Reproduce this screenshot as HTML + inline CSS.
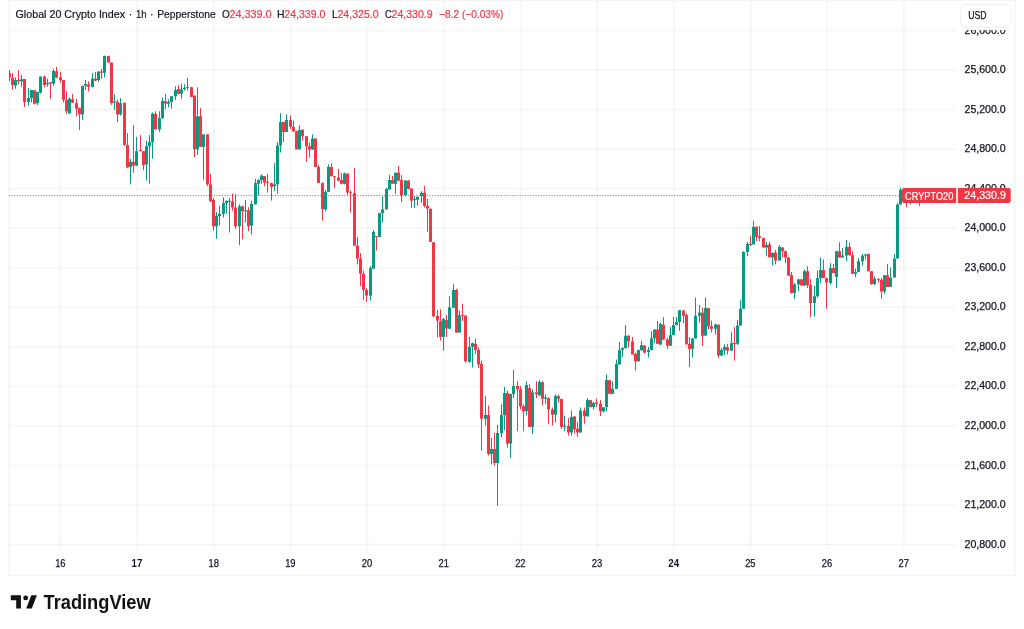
<!DOCTYPE html>
<html><head><meta charset="utf-8"><style>
html,body{margin:0;padding:0;background:#fff;}
body{width:1024px;height:629px;overflow:hidden;position:relative;}
svg{position:absolute;left:0;top:0;}
text{font-family:"Liberation Sans","DejaVu Sans",sans-serif;}
.ax{stroke:#131722;stroke-width:0.25px;}
.hd{stroke-width:0.2px;}
</style></head><body>
<svg width="1024" height="629" viewBox="0 0 1024 629">
<defs><clipPath id="clipc"><rect x="9" y="1" width="947" height="549"/></clipPath></defs>
<rect x="9" y="0.4" width="1006.1" height="575.1" fill="none" stroke="#f4f4f4" stroke-width="1.4"/>
<line x1="9" y1="195.6" x2="956" y2="195.6" stroke="#f23645" stroke-opacity="0.85" stroke-width="1" stroke-dasharray="1.2 1.46"/>
<rect x="9" y="29.57" width="947" height="1.8" fill="#2a2e39" fill-opacity="0.045"/>
<rect x="9" y="69.1" width="947" height="1.8" fill="#2a2e39" fill-opacity="0.045"/>
<rect x="9" y="108.63" width="947" height="1.8" fill="#2a2e39" fill-opacity="0.045"/>
<rect x="9" y="148.17" width="947" height="1.8" fill="#2a2e39" fill-opacity="0.045"/>
<rect x="9" y="187.7" width="947" height="1.8" fill="#2a2e39" fill-opacity="0.045"/>
<rect x="9" y="227.23" width="947" height="1.8" fill="#2a2e39" fill-opacity="0.045"/>
<rect x="9" y="266.77" width="947" height="1.8" fill="#2a2e39" fill-opacity="0.045"/>
<rect x="9" y="306.3" width="947" height="1.8" fill="#2a2e39" fill-opacity="0.045"/>
<rect x="9" y="345.83" width="947" height="1.8" fill="#2a2e39" fill-opacity="0.045"/>
<rect x="9" y="385.37" width="947" height="1.8" fill="#2a2e39" fill-opacity="0.045"/>
<rect x="9" y="424.9" width="947" height="1.8" fill="#2a2e39" fill-opacity="0.045"/>
<rect x="9" y="464.43" width="947" height="1.8" fill="#2a2e39" fill-opacity="0.045"/>
<rect x="9" y="503.97" width="947" height="1.8" fill="#2a2e39" fill-opacity="0.045"/>
<rect x="9" y="543.5" width="947" height="1.8" fill="#2a2e39" fill-opacity="0.045"/>
<rect x="59.63" y="1" width="1.8" height="549" fill="#2a2e39" fill-opacity="0.045"/>
<rect x="136.3" y="1" width="1.8" height="549" fill="#2a2e39" fill-opacity="0.045"/>
<rect x="212.97" y="1" width="1.8" height="549" fill="#2a2e39" fill-opacity="0.045"/>
<rect x="289.64" y="1" width="1.8" height="549" fill="#2a2e39" fill-opacity="0.045"/>
<rect x="366.31" y="1" width="1.8" height="549" fill="#2a2e39" fill-opacity="0.045"/>
<rect x="442.98" y="1" width="1.8" height="549" fill="#2a2e39" fill-opacity="0.045"/>
<rect x="519.65" y="1" width="1.8" height="549" fill="#2a2e39" fill-opacity="0.045"/>
<rect x="596.32" y="1" width="1.8" height="549" fill="#2a2e39" fill-opacity="0.045"/>
<rect x="672.99" y="1" width="1.8" height="549" fill="#2a2e39" fill-opacity="0.045"/>
<rect x="749.66" y="1" width="1.8" height="549" fill="#2a2e39" fill-opacity="0.045"/>
<rect x="826.33" y="1" width="1.8" height="549" fill="#2a2e39" fill-opacity="0.045"/>
<rect x="903.0" y="1" width="1.8" height="549" fill="#2a2e39" fill-opacity="0.045"/>
<g clip-path="url(#clipc)">
<rect x="9" y="70.00" width="1" height="11.25" fill="#f23645"/>
<rect x="8" y="73.12" width="3" height="4.38" fill="#f23645"/>
<rect x="12" y="73.12" width="1" height="16.62" fill="#f23645"/>
<rect x="11" y="77.75" width="3" height="7.25" fill="#f23645"/>
<rect x="15" y="77.50" width="1" height="11.25" fill="#089981"/>
<rect x="14" y="80.00" width="3" height="5.62" fill="#089981"/>
<rect x="18" y="70.25" width="1" height="14.12" fill="#f23645"/>
<rect x="17" y="80.00" width="3" height="1.25" fill="#f23645"/>
<rect x="21" y="75.00" width="1" height="11.88" fill="#089981"/>
<rect x="20" y="79.38" width="3" height="1.88" fill="#089981"/>
<rect x="24" y="79.00" width="1" height="27.88" fill="#f23645"/>
<rect x="23" y="79.00" width="3" height="22.88" fill="#f23645"/>
<rect x="28" y="88.12" width="1" height="17.50" fill="#089981"/>
<rect x="27" y="98.12" width="3" height="3.75" fill="#089981"/>
<rect x="31" y="90.00" width="1" height="12.50" fill="#089981"/>
<rect x="30" y="90.00" width="3" height="8.12" fill="#089981"/>
<rect x="34" y="90.25" width="1" height="14.12" fill="#f23645"/>
<rect x="33" y="90.25" width="3" height="13.50" fill="#f23645"/>
<rect x="37" y="91.88" width="1" height="13.12" fill="#089981"/>
<rect x="36" y="91.88" width="3" height="11.25" fill="#089981"/>
<rect x="40" y="76.25" width="1" height="17.50" fill="#089981"/>
<rect x="39" y="76.62" width="3" height="15.88" fill="#089981"/>
<rect x="44" y="75.62" width="1" height="11.88" fill="#f23645"/>
<rect x="43" y="76.50" width="3" height="8.50" fill="#f23645"/>
<rect x="47" y="78.75" width="1" height="8.12" fill="#089981"/>
<rect x="46" y="82.88" width="3" height="1.50" fill="#089981"/>
<rect x="50" y="81.88" width="1" height="16.88" fill="#f23645"/>
<rect x="49" y="82.25" width="3" height="1.25" fill="#f23645"/>
<rect x="53" y="68.75" width="1" height="16.88" fill="#089981"/>
<rect x="52" y="71.00" width="3" height="12.75" fill="#089981"/>
<rect x="56" y="66.88" width="1" height="11.25" fill="#f23645"/>
<rect x="55" y="71.25" width="3" height="6.50" fill="#f23645"/>
<rect x="60" y="71.88" width="1" height="10.62" fill="#f23645"/>
<rect x="59" y="77.25" width="3" height="2.75" fill="#f23645"/>
<rect x="63" y="80.00" width="1" height="22.50" fill="#f23645"/>
<rect x="62" y="80.00" width="3" height="20.00" fill="#f23645"/>
<rect x="66" y="91.25" width="1" height="22.50" fill="#f23645"/>
<rect x="65" y="100.00" width="3" height="11.25" fill="#f23645"/>
<rect x="69" y="97.50" width="1" height="16.25" fill="#089981"/>
<rect x="68" y="98.75" width="3" height="14.75" fill="#089981"/>
<rect x="72" y="93.75" width="1" height="9.38" fill="#f23645"/>
<rect x="71" y="99.38" width="3" height="3.38" fill="#f23645"/>
<rect x="76" y="99.00" width="1" height="17.25" fill="#f23645"/>
<rect x="75" y="103.12" width="3" height="5.62" fill="#f23645"/>
<rect x="79" y="107.50" width="1" height="22.50" fill="#f23645"/>
<rect x="78" y="108.12" width="3" height="6.25" fill="#f23645"/>
<rect x="82" y="85.62" width="1" height="34.38" fill="#089981"/>
<rect x="81" y="86.00" width="3" height="28.38" fill="#089981"/>
<rect x="85" y="80.00" width="1" height="10.00" fill="#089981"/>
<rect x="84" y="84.00" width="3" height="1.62" fill="#089981"/>
<rect x="88" y="81.25" width="1" height="10.00" fill="#f23645"/>
<rect x="87" y="84.38" width="3" height="2.50" fill="#f23645"/>
<rect x="92" y="73.12" width="1" height="14.38" fill="#089981"/>
<rect x="91" y="78.75" width="3" height="8.12" fill="#089981"/>
<rect x="95" y="71.88" width="1" height="9.38" fill="#f23645"/>
<rect x="94" y="78.75" width="3" height="1.88" fill="#f23645"/>
<rect x="98" y="71.25" width="1" height="10.62" fill="#089981"/>
<rect x="97" y="71.50" width="3" height="8.50" fill="#089981"/>
<rect x="101" y="68.75" width="1" height="10.00" fill="#f23645"/>
<rect x="100" y="71.50" width="3" height="1.25" fill="#f23645"/>
<rect x="104" y="55.62" width="1" height="21.88" fill="#089981"/>
<rect x="103" y="56.00" width="3" height="16.75" fill="#089981"/>
<rect x="108" y="55.62" width="1" height="6.88" fill="#f23645"/>
<rect x="107" y="56.00" width="3" height="6.50" fill="#f23645"/>
<rect x="111" y="62.50" width="1" height="42.25" fill="#f23645"/>
<rect x="110" y="62.50" width="3" height="40.62" fill="#f23645"/>
<rect x="114" y="94.38" width="1" height="15.62" fill="#089981"/>
<rect x="113" y="101.25" width="3" height="1.25" fill="#089981"/>
<rect x="117" y="99.38" width="1" height="22.50" fill="#f23645"/>
<rect x="116" y="101.88" width="3" height="12.50" fill="#f23645"/>
<rect x="120" y="98.12" width="1" height="17.50" fill="#089981"/>
<rect x="119" y="103.12" width="3" height="11.25" fill="#089981"/>
<rect x="124" y="102.75" width="1" height="42.75" fill="#f23645"/>
<rect x="123" y="102.75" width="3" height="42.25" fill="#f23645"/>
<rect x="127" y="133.10" width="1" height="35.00" fill="#f23645"/>
<rect x="126" y="145.00" width="3" height="22.25" fill="#f23645"/>
<rect x="130" y="158.75" width="1" height="25.65" fill="#089981"/>
<rect x="129" y="161.90" width="3" height="5.00" fill="#089981"/>
<rect x="133" y="125.00" width="1" height="47.75" fill="#f23645"/>
<rect x="132" y="161.90" width="3" height="3.70" fill="#f23645"/>
<rect x="136" y="136.90" width="1" height="29.10" fill="#089981"/>
<rect x="135" y="151.25" width="3" height="14.35" fill="#089981"/>
<rect x="140" y="135.00" width="1" height="16.25" fill="#f23645"/>
<rect x="139" y="150.00" width="3" height="1.25" fill="#f23645"/>
<rect x="143" y="151.25" width="1" height="19.00" fill="#f23645"/>
<rect x="142" y="151.25" width="3" height="13.75" fill="#f23645"/>
<rect x="146" y="140.60" width="1" height="40.00" fill="#089981"/>
<rect x="145" y="146.25" width="3" height="18.15" fill="#089981"/>
<rect x="149" y="135.00" width="1" height="48.75" fill="#089981"/>
<rect x="148" y="141.90" width="3" height="4.35" fill="#089981"/>
<rect x="152" y="112.50" width="1" height="46.25" fill="#089981"/>
<rect x="151" y="113.50" width="3" height="28.75" fill="#089981"/>
<rect x="155" y="111.25" width="1" height="18.15" fill="#f23645"/>
<rect x="154" y="114.00" width="3" height="15.40" fill="#f23645"/>
<rect x="159" y="111.25" width="1" height="20.65" fill="#089981"/>
<rect x="158" y="118.10" width="3" height="11.30" fill="#089981"/>
<rect x="162" y="97.50" width="1" height="21.25" fill="#089981"/>
<rect x="161" y="101.00" width="3" height="17.10" fill="#089981"/>
<rect x="165" y="94.00" width="1" height="15.00" fill="#f23645"/>
<rect x="164" y="101.25" width="3" height="2.25" fill="#f23645"/>
<rect x="168" y="99.40" width="1" height="8.10" fill="#089981"/>
<rect x="167" y="101.90" width="3" height="1.85" fill="#089981"/>
<rect x="171" y="96.25" width="1" height="12.50" fill="#089981"/>
<rect x="170" y="96.25" width="3" height="5.65" fill="#089981"/>
<rect x="175" y="86.25" width="1" height="13.75" fill="#089981"/>
<rect x="174" y="90.00" width="3" height="6.25" fill="#089981"/>
<rect x="178" y="85.00" width="1" height="9.40" fill="#f23645"/>
<rect x="177" y="89.00" width="3" height="4.75" fill="#f23645"/>
<rect x="181" y="83.75" width="1" height="15.00" fill="#089981"/>
<rect x="180" y="89.40" width="3" height="4.35" fill="#089981"/>
<rect x="184" y="84.40" width="1" height="6.20" fill="#089981"/>
<rect x="183" y="87.75" width="3" height="1.25" fill="#089981"/>
<rect x="187" y="77.75" width="1" height="12.85" fill="#089981"/>
<rect x="186" y="86.83" width="3" height="1.00" fill="#089981"/>
<rect x="191" y="86.90" width="1" height="10.35" fill="#f23645"/>
<rect x="190" y="87.25" width="3" height="9.65" fill="#f23645"/>
<rect x="194" y="95.60" width="1" height="61.90" fill="#f23645"/>
<rect x="193" y="95.60" width="3" height="53.80" fill="#f23645"/>
<rect x="197" y="87.25" width="1" height="67.75" fill="#089981"/>
<rect x="196" y="116.25" width="3" height="33.15" fill="#089981"/>
<rect x="200" y="108.10" width="1" height="38.80" fill="#f23645"/>
<rect x="199" y="116.25" width="3" height="30.65" fill="#f23645"/>
<rect x="203" y="134.40" width="1" height="45.35" fill="#089981"/>
<rect x="202" y="134.40" width="3" height="12.50" fill="#089981"/>
<rect x="207" y="134.40" width="1" height="51.85" fill="#f23645"/>
<rect x="206" y="134.40" width="3" height="50.00" fill="#f23645"/>
<rect x="210" y="174.00" width="1" height="27.90" fill="#f23645"/>
<rect x="209" y="184.40" width="3" height="16.85" fill="#f23645"/>
<rect x="213" y="198.10" width="1" height="32.50" fill="#f23645"/>
<rect x="212" y="200.00" width="3" height="26.25" fill="#f23645"/>
<rect x="216" y="211.90" width="1" height="26.85" fill="#089981"/>
<rect x="215" y="216.00" width="3" height="10.25" fill="#089981"/>
<rect x="219" y="205.60" width="1" height="20.00" fill="#089981"/>
<rect x="218" y="214.00" width="3" height="2.00" fill="#089981"/>
<rect x="223" y="197.25" width="1" height="20.25" fill="#089981"/>
<rect x="222" y="203.10" width="3" height="10.90" fill="#089981"/>
<rect x="226" y="200.25" width="1" height="13.50" fill="#089981"/>
<rect x="225" y="201.00" width="3" height="2.10" fill="#089981"/>
<rect x="229" y="198.10" width="1" height="34.40" fill="#089981"/>
<rect x="228" y="200.75" width="3" height="1.00" fill="#089981"/>
<rect x="232" y="193.50" width="1" height="17.10" fill="#f23645"/>
<rect x="231" y="201.50" width="3" height="6.00" fill="#f23645"/>
<rect x="235" y="194.00" width="1" height="34.75" fill="#f23645"/>
<rect x="234" y="207.50" width="3" height="18.75" fill="#f23645"/>
<rect x="239" y="204.40" width="1" height="40.60" fill="#089981"/>
<rect x="238" y="206.25" width="3" height="20.00" fill="#089981"/>
<rect x="242" y="205.60" width="1" height="33.80" fill="#f23645"/>
<rect x="241" y="206.25" width="3" height="5.00" fill="#f23645"/>
<rect x="245" y="200.00" width="1" height="22.50" fill="#089981"/>
<rect x="244" y="210.25" width="3" height="1.00" fill="#089981"/>
<rect x="248" y="207.25" width="1" height="24.00" fill="#f23645"/>
<rect x="247" y="210.25" width="3" height="16.00" fill="#f23645"/>
<rect x="251" y="200.60" width="1" height="34.15" fill="#089981"/>
<rect x="250" y="204.00" width="3" height="21.60" fill="#089981"/>
<rect x="255" y="178.75" width="1" height="25.65" fill="#089981"/>
<rect x="254" y="183.10" width="3" height="21.30" fill="#089981"/>
<rect x="258" y="179.40" width="1" height="16.20" fill="#089981"/>
<rect x="257" y="180.00" width="3" height="3.75" fill="#089981"/>
<rect x="261" y="174.40" width="1" height="9.35" fill="#089981"/>
<rect x="260" y="175.60" width="3" height="4.40" fill="#089981"/>
<rect x="264" y="176.00" width="1" height="10.25" fill="#f23645"/>
<rect x="263" y="176.00" width="3" height="6.50" fill="#f23645"/>
<rect x="267" y="174.00" width="1" height="18.50" fill="#f23645"/>
<rect x="266" y="181.82" width="3" height="1.00" fill="#f23645"/>
<rect x="271" y="182.50" width="1" height="18.10" fill="#f23645"/>
<rect x="270" y="183.10" width="3" height="3.80" fill="#f23645"/>
<rect x="274" y="163.10" width="1" height="28.15" fill="#089981"/>
<rect x="273" y="184.40" width="3" height="1.85" fill="#089981"/>
<rect x="277" y="142.25" width="1" height="51.50" fill="#089981"/>
<rect x="276" y="145.60" width="3" height="38.80" fill="#089981"/>
<rect x="280" y="113.10" width="1" height="39.40" fill="#089981"/>
<rect x="279" y="121.90" width="3" height="23.70" fill="#089981"/>
<rect x="283" y="121.90" width="1" height="20.00" fill="#f23645"/>
<rect x="282" y="121.90" width="3" height="10.00" fill="#f23645"/>
<rect x="286" y="114.40" width="1" height="17.50" fill="#089981"/>
<rect x="285" y="120.00" width="3" height="11.90" fill="#089981"/>
<rect x="290" y="115.25" width="1" height="13.50" fill="#f23645"/>
<rect x="289" y="120.00" width="3" height="6.90" fill="#f23645"/>
<rect x="293" y="120.60" width="1" height="11.30" fill="#f23645"/>
<rect x="292" y="126.90" width="3" height="4.35" fill="#f23645"/>
<rect x="296" y="130.60" width="1" height="18.80" fill="#f23645"/>
<rect x="295" y="131.25" width="3" height="18.15" fill="#f23645"/>
<rect x="299" y="125.00" width="1" height="24.40" fill="#089981"/>
<rect x="298" y="130.00" width="3" height="19.40" fill="#089981"/>
<rect x="302" y="129.40" width="1" height="11.20" fill="#f23645"/>
<rect x="301" y="129.75" width="3" height="6.50" fill="#f23645"/>
<rect x="306" y="136.25" width="1" height="25.65" fill="#f23645"/>
<rect x="305" y="136.25" width="3" height="10.00" fill="#f23645"/>
<rect x="309" y="142.50" width="1" height="15.00" fill="#f23645"/>
<rect x="308" y="146.25" width="3" height="3.15" fill="#f23645"/>
<rect x="312" y="134.40" width="1" height="15.60" fill="#089981"/>
<rect x="311" y="138.50" width="3" height="10.90" fill="#089981"/>
<rect x="315" y="138.50" width="1" height="28.40" fill="#f23645"/>
<rect x="314" y="138.50" width="3" height="28.40" fill="#f23645"/>
<rect x="318" y="165.00" width="1" height="18.10" fill="#f23645"/>
<rect x="317" y="166.90" width="3" height="16.20" fill="#f23645"/>
<rect x="322" y="182.50" width="1" height="38.10" fill="#f23645"/>
<rect x="321" y="183.10" width="3" height="26.30" fill="#f23645"/>
<rect x="325" y="190.00" width="1" height="21.25" fill="#089981"/>
<rect x="324" y="191.90" width="3" height="17.50" fill="#089981"/>
<rect x="328" y="164.40" width="1" height="27.50" fill="#089981"/>
<rect x="327" y="166.90" width="3" height="25.00" fill="#089981"/>
<rect x="331" y="163.10" width="1" height="13.15" fill="#f23645"/>
<rect x="330" y="166.90" width="3" height="9.35" fill="#f23645"/>
<rect x="334" y="176.25" width="1" height="11.85" fill="#f23645"/>
<rect x="333" y="176.25" width="3" height="1.25" fill="#f23645"/>
<rect x="338" y="168.75" width="1" height="12.50" fill="#f23645"/>
<rect x="337" y="177.50" width="3" height="3.10" fill="#f23645"/>
<rect x="341" y="173.10" width="1" height="11.30" fill="#f23645"/>
<rect x="340" y="180.00" width="3" height="3.75" fill="#f23645"/>
<rect x="344" y="172.50" width="1" height="11.90" fill="#089981"/>
<rect x="343" y="173.50" width="3" height="10.25" fill="#089981"/>
<rect x="347" y="173.50" width="1" height="21.50" fill="#f23645"/>
<rect x="346" y="173.50" width="3" height="19.00" fill="#f23645"/>
<rect x="350" y="190.60" width="1" height="21.90" fill="#f23645"/>
<rect x="349" y="192.30" width="3" height="1.00" fill="#f23645"/>
<rect x="354" y="168.10" width="1" height="78.15" fill="#f23645"/>
<rect x="353" y="193.10" width="3" height="52.50" fill="#f23645"/>
<rect x="357" y="236.90" width="1" height="27.50" fill="#f23645"/>
<rect x="356" y="245.60" width="3" height="12.90" fill="#f23645"/>
<rect x="360" y="253.10" width="1" height="33.15" fill="#f23645"/>
<rect x="359" y="258.50" width="3" height="15.25" fill="#f23645"/>
<rect x="363" y="270.60" width="1" height="29.40" fill="#f23645"/>
<rect x="362" y="273.75" width="3" height="16.25" fill="#f23645"/>
<rect x="366" y="288.10" width="1" height="13.80" fill="#f23645"/>
<rect x="365" y="290.00" width="3" height="5.60" fill="#f23645"/>
<rect x="370" y="266.00" width="1" height="34.60" fill="#089981"/>
<rect x="369" y="268.10" width="3" height="27.50" fill="#089981"/>
<rect x="373" y="230.25" width="1" height="38.50" fill="#089981"/>
<rect x="372" y="231.90" width="3" height="36.85" fill="#089981"/>
<rect x="376" y="236.00" width="1" height="14.60" fill="#f23645"/>
<rect x="375" y="236.07" width="3" height="1.00" fill="#f23645"/>
<rect x="379" y="213.10" width="1" height="24.40" fill="#089981"/>
<rect x="378" y="213.10" width="3" height="23.80" fill="#089981"/>
<rect x="382" y="196.25" width="1" height="26.25" fill="#089981"/>
<rect x="381" y="209.40" width="3" height="3.70" fill="#089981"/>
<rect x="386" y="187.75" width="1" height="21.65" fill="#089981"/>
<rect x="385" y="189.00" width="3" height="20.40" fill="#089981"/>
<rect x="389" y="174.75" width="1" height="15.25" fill="#089981"/>
<rect x="388" y="180.00" width="3" height="9.40" fill="#089981"/>
<rect x="392" y="176.00" width="1" height="7.75" fill="#f23645"/>
<rect x="391" y="180.00" width="3" height="3.75" fill="#f23645"/>
<rect x="395" y="172.50" width="1" height="21.25" fill="#089981"/>
<rect x="394" y="172.75" width="3" height="11.00" fill="#089981"/>
<rect x="398" y="166.00" width="1" height="15.25" fill="#f23645"/>
<rect x="397" y="172.50" width="3" height="8.10" fill="#f23645"/>
<rect x="401" y="175.00" width="1" height="27.25" fill="#f23645"/>
<rect x="400" y="180.00" width="3" height="15.00" fill="#f23645"/>
<rect x="405" y="180.00" width="1" height="16.50" fill="#089981"/>
<rect x="404" y="180.60" width="3" height="14.40" fill="#089981"/>
<rect x="408" y="180.00" width="1" height="9.40" fill="#f23645"/>
<rect x="407" y="180.60" width="3" height="8.40" fill="#f23645"/>
<rect x="411" y="188.10" width="1" height="20.00" fill="#f23645"/>
<rect x="410" y="188.50" width="3" height="12.10" fill="#f23645"/>
<rect x="414" y="196.25" width="1" height="11.85" fill="#089981"/>
<rect x="413" y="199.07" width="3" height="1.00" fill="#089981"/>
<rect x="417" y="196.25" width="1" height="9.35" fill="#089981"/>
<rect x="416" y="196.90" width="3" height="2.85" fill="#089981"/>
<rect x="421" y="191.25" width="1" height="11.85" fill="#089981"/>
<rect x="420" y="192.75" width="3" height="3.50" fill="#089981"/>
<rect x="424" y="186.00" width="1" height="21.50" fill="#f23645"/>
<rect x="423" y="192.75" width="3" height="13.25" fill="#f23645"/>
<rect x="427" y="199.00" width="1" height="32.90" fill="#f23645"/>
<rect x="426" y="206.00" width="3" height="2.50" fill="#f23645"/>
<rect x="430" y="208.75" width="1" height="33.15" fill="#f23645"/>
<rect x="429" y="208.75" width="3" height="33.15" fill="#f23645"/>
<rect x="433" y="242.25" width="1" height="75.25" fill="#f23645"/>
<rect x="432" y="242.25" width="3" height="74.00" fill="#f23645"/>
<rect x="437" y="310.00" width="1" height="27.50" fill="#f23645"/>
<rect x="436" y="316.00" width="3" height="4.60" fill="#f23645"/>
<rect x="440" y="309.40" width="1" height="31.20" fill="#f23645"/>
<rect x="439" y="321.25" width="3" height="15.65" fill="#f23645"/>
<rect x="443" y="318.10" width="1" height="32.50" fill="#089981"/>
<rect x="442" y="319.00" width="3" height="17.90" fill="#089981"/>
<rect x="446" y="315.00" width="1" height="21.90" fill="#f23645"/>
<rect x="445" y="320.00" width="3" height="8.50" fill="#f23645"/>
<rect x="449" y="296.25" width="1" height="32.50" fill="#089981"/>
<rect x="448" y="307.25" width="3" height="21.50" fill="#089981"/>
<rect x="453" y="284.40" width="1" height="23.35" fill="#089981"/>
<rect x="452" y="290.00" width="3" height="17.75" fill="#089981"/>
<rect x="456" y="288.75" width="1" height="44.00" fill="#f23645"/>
<rect x="455" y="289.75" width="3" height="42.75" fill="#f23645"/>
<rect x="459" y="310.60" width="1" height="22.15" fill="#089981"/>
<rect x="458" y="315.25" width="3" height="17.25" fill="#089981"/>
<rect x="462" y="303.75" width="1" height="17.50" fill="#f23645"/>
<rect x="461" y="314.80" width="3" height="1.00" fill="#f23645"/>
<rect x="465" y="315.60" width="1" height="46.90" fill="#f23645"/>
<rect x="464" y="315.60" width="3" height="45.65" fill="#f23645"/>
<rect x="469" y="336.90" width="1" height="25.60" fill="#089981"/>
<rect x="468" y="346.90" width="3" height="15.00" fill="#089981"/>
<rect x="472" y="342.50" width="1" height="25.00" fill="#089981"/>
<rect x="471" y="343.10" width="3" height="3.80" fill="#089981"/>
<rect x="475" y="338.75" width="1" height="15.00" fill="#f23645"/>
<rect x="474" y="343.75" width="3" height="6.25" fill="#f23645"/>
<rect x="478" y="347.50" width="1" height="20.60" fill="#f23645"/>
<rect x="477" y="350.00" width="3" height="14.40" fill="#f23645"/>
<rect x="481" y="360.60" width="1" height="89.90" fill="#f23645"/>
<rect x="480" y="364.00" width="3" height="54.75" fill="#f23645"/>
<rect x="485" y="396.25" width="1" height="29.35" fill="#089981"/>
<rect x="484" y="415.00" width="3" height="3.75" fill="#089981"/>
<rect x="488" y="405.60" width="1" height="49.90" fill="#f23645"/>
<rect x="487" y="415.00" width="3" height="39.00" fill="#f23645"/>
<rect x="491" y="438.00" width="1" height="26.25" fill="#089981"/>
<rect x="490" y="449.00" width="3" height="5.00" fill="#089981"/>
<rect x="494" y="433.00" width="1" height="32.50" fill="#f23645"/>
<rect x="493" y="449.00" width="3" height="14.00" fill="#f23645"/>
<rect x="497" y="425.00" width="1" height="80.90" fill="#089981"/>
<rect x="496" y="433.00" width="3" height="30.00" fill="#089981"/>
<rect x="501" y="404.40" width="1" height="33.00" fill="#089981"/>
<rect x="500" y="415.00" width="3" height="18.10" fill="#089981"/>
<rect x="504" y="386.90" width="1" height="43.10" fill="#089981"/>
<rect x="503" y="393.10" width="3" height="21.90" fill="#089981"/>
<rect x="507" y="390.60" width="1" height="56.80" fill="#f23645"/>
<rect x="506" y="393.10" width="3" height="50.50" fill="#f23645"/>
<rect x="510" y="393.75" width="1" height="64.25" fill="#089981"/>
<rect x="509" y="394.00" width="3" height="49.60" fill="#089981"/>
<rect x="513" y="370.00" width="1" height="28.10" fill="#089981"/>
<rect x="512" y="386.00" width="3" height="8.00" fill="#089981"/>
<rect x="517" y="381.25" width="1" height="49.85" fill="#f23645"/>
<rect x="516" y="386.00" width="3" height="3.40" fill="#f23645"/>
<rect x="520" y="386.25" width="1" height="23.15" fill="#f23645"/>
<rect x="519" y="389.40" width="3" height="16.85" fill="#f23645"/>
<rect x="523" y="404.40" width="1" height="26.85" fill="#f23645"/>
<rect x="522" y="406.25" width="3" height="5.00" fill="#f23645"/>
<rect x="526" y="381.25" width="1" height="34.35" fill="#089981"/>
<rect x="525" y="385.00" width="3" height="26.25" fill="#089981"/>
<rect x="529" y="383.75" width="1" height="43.15" fill="#f23645"/>
<rect x="528" y="388.10" width="3" height="38.80" fill="#f23645"/>
<rect x="532" y="389.40" width="1" height="44.35" fill="#089981"/>
<rect x="531" y="392.25" width="3" height="34.65" fill="#089981"/>
<rect x="536" y="381.25" width="1" height="16.85" fill="#f23645"/>
<rect x="535" y="392.25" width="3" height="2.15" fill="#f23645"/>
<rect x="539" y="380.00" width="1" height="16.25" fill="#089981"/>
<rect x="538" y="381.90" width="3" height="13.10" fill="#089981"/>
<rect x="542" y="381.25" width="1" height="24.35" fill="#f23645"/>
<rect x="541" y="382.25" width="3" height="16.50" fill="#f23645"/>
<rect x="545" y="394.40" width="1" height="9.35" fill="#089981"/>
<rect x="544" y="397.50" width="3" height="1.25" fill="#089981"/>
<rect x="548" y="397.50" width="1" height="26.25" fill="#f23645"/>
<rect x="547" y="398.10" width="3" height="11.30" fill="#f23645"/>
<rect x="552" y="407.50" width="1" height="18.10" fill="#f23645"/>
<rect x="551" y="409.40" width="3" height="5.35" fill="#f23645"/>
<rect x="555" y="394.40" width="1" height="28.10" fill="#089981"/>
<rect x="554" y="396.00" width="3" height="18.75" fill="#089981"/>
<rect x="558" y="394.75" width="1" height="7.75" fill="#f23645"/>
<rect x="557" y="396.25" width="3" height="2.50" fill="#f23645"/>
<rect x="561" y="398.75" width="1" height="30.00" fill="#f23645"/>
<rect x="560" y="399.00" width="3" height="27.90" fill="#f23645"/>
<rect x="564" y="415.60" width="1" height="15.65" fill="#089981"/>
<rect x="563" y="425.60" width="3" height="1.30" fill="#089981"/>
<rect x="568" y="418.10" width="1" height="17.50" fill="#f23645"/>
<rect x="567" y="426.00" width="3" height="6.50" fill="#f23645"/>
<rect x="571" y="410.60" width="1" height="25.00" fill="#089981"/>
<rect x="570" y="416.90" width="3" height="15.60" fill="#089981"/>
<rect x="574" y="416.25" width="1" height="17.50" fill="#f23645"/>
<rect x="573" y="416.50" width="3" height="12.90" fill="#f23645"/>
<rect x="577" y="421.90" width="1" height="15.00" fill="#f23645"/>
<rect x="576" y="428.75" width="3" height="3.75" fill="#f23645"/>
<rect x="580" y="407.50" width="1" height="25.00" fill="#089981"/>
<rect x="579" y="410.60" width="3" height="21.90" fill="#089981"/>
<rect x="584" y="407.50" width="1" height="16.25" fill="#f23645"/>
<rect x="583" y="410.60" width="3" height="5.65" fill="#f23645"/>
<rect x="587" y="398.25" width="1" height="18.15" fill="#089981"/>
<rect x="586" y="400.10" width="3" height="16.30" fill="#089981"/>
<rect x="590" y="400.10" width="1" height="7.50" fill="#f23645"/>
<rect x="589" y="400.10" width="3" height="6.90" fill="#f23645"/>
<rect x="593" y="402.00" width="1" height="7.50" fill="#089981"/>
<rect x="592" y="403.00" width="3" height="4.00" fill="#089981"/>
<rect x="596" y="398.50" width="1" height="8.50" fill="#f23645"/>
<rect x="595" y="402.60" width="3" height="1.30" fill="#f23645"/>
<rect x="600" y="400.10" width="1" height="15.90" fill="#f23645"/>
<rect x="599" y="403.90" width="3" height="7.50" fill="#f23645"/>
<rect x="603" y="407.00" width="1" height="5.60" fill="#089981"/>
<rect x="602" y="407.25" width="3" height="4.15" fill="#089981"/>
<rect x="606" y="374.50" width="1" height="36.90" fill="#089981"/>
<rect x="605" y="380.10" width="3" height="26.90" fill="#089981"/>
<rect x="609" y="380.10" width="1" height="13.80" fill="#f23645"/>
<rect x="608" y="380.10" width="3" height="13.80" fill="#f23645"/>
<rect x="612" y="381.40" width="1" height="12.50" fill="#089981"/>
<rect x="611" y="388.90" width="3" height="5.00" fill="#089981"/>
<rect x="616" y="359.50" width="1" height="29.40" fill="#089981"/>
<rect x="615" y="363.90" width="3" height="25.00" fill="#089981"/>
<rect x="619" y="342.00" width="1" height="22.50" fill="#089981"/>
<rect x="618" y="350.10" width="3" height="14.40" fill="#089981"/>
<rect x="622" y="347.00" width="1" height="10.00" fill="#089981"/>
<rect x="621" y="348.25" width="3" height="1.85" fill="#089981"/>
<rect x="625" y="325.10" width="1" height="23.15" fill="#089981"/>
<rect x="624" y="335.75" width="3" height="12.50" fill="#089981"/>
<rect x="628" y="335.10" width="1" height="12.50" fill="#f23645"/>
<rect x="627" y="335.75" width="3" height="5.65" fill="#f23645"/>
<rect x="632" y="337.00" width="1" height="17.50" fill="#f23645"/>
<rect x="631" y="341.40" width="3" height="13.10" fill="#f23645"/>
<rect x="635" y="352.60" width="1" height="18.15" fill="#f23645"/>
<rect x="634" y="353.90" width="3" height="7.50" fill="#f23645"/>
<rect x="638" y="349.50" width="1" height="11.90" fill="#089981"/>
<rect x="637" y="350.10" width="3" height="11.30" fill="#089981"/>
<rect x="641" y="340.75" width="1" height="10.00" fill="#089981"/>
<rect x="640" y="345.10" width="3" height="5.00" fill="#089981"/>
<rect x="644" y="345.10" width="1" height="8.15" fill="#f23645"/>
<rect x="643" y="345.50" width="3" height="7.10" fill="#f23645"/>
<rect x="648" y="347.00" width="1" height="10.60" fill="#089981"/>
<rect x="647" y="350.10" width="3" height="1.90" fill="#089981"/>
<rect x="651" y="331.40" width="1" height="18.70" fill="#089981"/>
<rect x="650" y="338.25" width="3" height="11.85" fill="#089981"/>
<rect x="654" y="329.50" width="1" height="13.75" fill="#089981"/>
<rect x="653" y="329.50" width="3" height="8.75" fill="#089981"/>
<rect x="657" y="321.00" width="1" height="22.90" fill="#f23645"/>
<rect x="656" y="329.50" width="3" height="14.40" fill="#f23645"/>
<rect x="660" y="322.60" width="1" height="22.50" fill="#089981"/>
<rect x="659" y="323.90" width="3" height="20.60" fill="#089981"/>
<rect x="663" y="317.00" width="1" height="23.10" fill="#f23645"/>
<rect x="662" y="324.75" width="3" height="14.75" fill="#f23645"/>
<rect x="667" y="337.60" width="1" height="11.30" fill="#f23645"/>
<rect x="666" y="339.50" width="3" height="6.25" fill="#f23645"/>
<rect x="670" y="327.00" width="1" height="18.75" fill="#089981"/>
<rect x="669" y="335.10" width="3" height="10.65" fill="#089981"/>
<rect x="673" y="317.00" width="1" height="18.10" fill="#089981"/>
<rect x="672" y="325.10" width="3" height="10.00" fill="#089981"/>
<rect x="676" y="317.00" width="1" height="8.10" fill="#089981"/>
<rect x="675" y="322.00" width="3" height="3.10" fill="#089981"/>
<rect x="679" y="310.10" width="1" height="20.65" fill="#089981"/>
<rect x="678" y="310.10" width="3" height="11.90" fill="#089981"/>
<rect x="683" y="310.10" width="1" height="13.15" fill="#f23645"/>
<rect x="682" y="310.50" width="3" height="5.25" fill="#f23645"/>
<rect x="686" y="313.25" width="1" height="31.85" fill="#f23645"/>
<rect x="685" y="315.10" width="3" height="28.80" fill="#f23645"/>
<rect x="689" y="337.00" width="1" height="30.00" fill="#f23645"/>
<rect x="688" y="343.90" width="3" height="5.00" fill="#f23645"/>
<rect x="692" y="338.25" width="1" height="19.35" fill="#089981"/>
<rect x="691" y="338.50" width="3" height="10.40" fill="#089981"/>
<rect x="695" y="297.60" width="1" height="40.90" fill="#089981"/>
<rect x="694" y="315.75" width="3" height="22.75" fill="#089981"/>
<rect x="699" y="305.10" width="1" height="17.50" fill="#089981"/>
<rect x="698" y="312.60" width="3" height="3.15" fill="#089981"/>
<rect x="702" y="307.60" width="1" height="38.40" fill="#f23645"/>
<rect x="701" y="312.60" width="3" height="23.15" fill="#f23645"/>
<rect x="705" y="297.50" width="1" height="38.10" fill="#089981"/>
<rect x="704" y="308.10" width="3" height="27.50" fill="#089981"/>
<rect x="708" y="308.10" width="1" height="21.30" fill="#f23645"/>
<rect x="707" y="308.10" width="3" height="18.15" fill="#f23645"/>
<rect x="711" y="320.60" width="1" height="11.90" fill="#f23645"/>
<rect x="710" y="326.25" width="3" height="2.50" fill="#f23645"/>
<rect x="715" y="323.75" width="1" height="10.65" fill="#089981"/>
<rect x="714" y="324.40" width="3" height="4.35" fill="#089981"/>
<rect x="718" y="324.40" width="1" height="33.70" fill="#f23645"/>
<rect x="717" y="324.75" width="3" height="30.85" fill="#f23645"/>
<rect x="721" y="348.10" width="1" height="8.15" fill="#089981"/>
<rect x="720" y="350.00" width="3" height="5.60" fill="#089981"/>
<rect x="724" y="344.40" width="1" height="10.60" fill="#089981"/>
<rect x="723" y="346.90" width="3" height="3.10" fill="#089981"/>
<rect x="727" y="343.75" width="1" height="10.65" fill="#f23645"/>
<rect x="726" y="347.25" width="3" height="3.35" fill="#f23645"/>
<rect x="731" y="331.90" width="1" height="18.70" fill="#089981"/>
<rect x="730" y="343.10" width="3" height="7.50" fill="#089981"/>
<rect x="734" y="326.90" width="1" height="33.70" fill="#f23645"/>
<rect x="733" y="342.93" width="3" height="1.00" fill="#f23645"/>
<rect x="737" y="320.00" width="1" height="25.00" fill="#089981"/>
<rect x="736" y="325.60" width="3" height="18.15" fill="#089981"/>
<rect x="740" y="300.00" width="1" height="25.60" fill="#089981"/>
<rect x="739" y="308.75" width="3" height="16.85" fill="#089981"/>
<rect x="743" y="251.25" width="1" height="57.50" fill="#089981"/>
<rect x="742" y="251.90" width="3" height="56.85" fill="#089981"/>
<rect x="747" y="241.90" width="1" height="14.35" fill="#089981"/>
<rect x="746" y="244.00" width="3" height="7.90" fill="#089981"/>
<rect x="750" y="236.25" width="1" height="9.75" fill="#f23645"/>
<rect x="749" y="243.75" width="3" height="1.25" fill="#f23645"/>
<rect x="753" y="220.60" width="1" height="23.80" fill="#089981"/>
<rect x="752" y="226.90" width="3" height="17.50" fill="#089981"/>
<rect x="756" y="226.25" width="1" height="15.00" fill="#f23645"/>
<rect x="755" y="226.90" width="3" height="10.00" fill="#f23645"/>
<rect x="759" y="226.00" width="1" height="15.25" fill="#f23645"/>
<rect x="758" y="236.25" width="3" height="1.85" fill="#f23645"/>
<rect x="763" y="237.50" width="1" height="10.25" fill="#f23645"/>
<rect x="762" y="238.10" width="3" height="9.40" fill="#f23645"/>
<rect x="766" y="241.90" width="1" height="14.35" fill="#089981"/>
<rect x="765" y="245.00" width="3" height="2.50" fill="#089981"/>
<rect x="769" y="241.90" width="1" height="15.35" fill="#f23645"/>
<rect x="768" y="244.40" width="3" height="12.85" fill="#f23645"/>
<rect x="772" y="252.50" width="1" height="13.10" fill="#089981"/>
<rect x="771" y="253.10" width="3" height="4.15" fill="#089981"/>
<rect x="775" y="250.00" width="1" height="14.40" fill="#f23645"/>
<rect x="774" y="252.50" width="3" height="8.10" fill="#f23645"/>
<rect x="779" y="245.00" width="1" height="15.60" fill="#089981"/>
<rect x="778" y="246.90" width="3" height="13.70" fill="#089981"/>
<rect x="782" y="246.90" width="1" height="10.60" fill="#f23645"/>
<rect x="781" y="247.50" width="3" height="3.75" fill="#f23645"/>
<rect x="785" y="250.60" width="1" height="12.50" fill="#f23645"/>
<rect x="784" y="251.25" width="3" height="6.25" fill="#f23645"/>
<rect x="788" y="256.90" width="1" height="18.70" fill="#f23645"/>
<rect x="787" y="257.50" width="3" height="18.10" fill="#f23645"/>
<rect x="791" y="271.90" width="1" height="21.60" fill="#f23645"/>
<rect x="790" y="275.00" width="3" height="18.00" fill="#f23645"/>
<rect x="794" y="283.10" width="1" height="15.65" fill="#089981"/>
<rect x="793" y="284.40" width="3" height="8.60" fill="#089981"/>
<rect x="798" y="278.75" width="1" height="12.50" fill="#089981"/>
<rect x="797" y="279.40" width="3" height="5.00" fill="#089981"/>
<rect x="801" y="278.75" width="1" height="6.85" fill="#f23645"/>
<rect x="800" y="279.40" width="3" height="6.20" fill="#f23645"/>
<rect x="804" y="269.40" width="1" height="16.20" fill="#089981"/>
<rect x="803" y="271.25" width="3" height="14.35" fill="#089981"/>
<rect x="807" y="266.25" width="1" height="21.85" fill="#f23645"/>
<rect x="806" y="271.25" width="3" height="13.75" fill="#f23645"/>
<rect x="810" y="278.75" width="1" height="38.15" fill="#f23645"/>
<rect x="809" y="285.00" width="3" height="18.10" fill="#f23645"/>
<rect x="814" y="286.00" width="1" height="30.50" fill="#089981"/>
<rect x="813" y="296.25" width="3" height="6.85" fill="#089981"/>
<rect x="817" y="270.60" width="1" height="27.00" fill="#089981"/>
<rect x="816" y="278.10" width="3" height="18.15" fill="#089981"/>
<rect x="820" y="257.50" width="1" height="25.60" fill="#089981"/>
<rect x="819" y="270.00" width="3" height="8.10" fill="#089981"/>
<rect x="823" y="259.60" width="1" height="18.50" fill="#f23645"/>
<rect x="822" y="270.00" width="3" height="8.10" fill="#f23645"/>
<rect x="826" y="277.50" width="1" height="31.25" fill="#f23645"/>
<rect x="825" y="278.10" width="3" height="4.40" fill="#f23645"/>
<rect x="830" y="263.10" width="1" height="21.30" fill="#089981"/>
<rect x="829" y="268.10" width="3" height="15.00" fill="#089981"/>
<rect x="833" y="264.00" width="1" height="9.10" fill="#f23645"/>
<rect x="832" y="268.10" width="3" height="5.00" fill="#f23645"/>
<rect x="836" y="250.60" width="1" height="37.50" fill="#089981"/>
<rect x="835" y="251.25" width="3" height="25.65" fill="#089981"/>
<rect x="839" y="242.25" width="1" height="15.25" fill="#f23645"/>
<rect x="838" y="251.25" width="3" height="6.25" fill="#f23645"/>
<rect x="842" y="248.10" width="1" height="9.40" fill="#089981"/>
<rect x="841" y="255.60" width="3" height="1.90" fill="#089981"/>
<rect x="846" y="240.00" width="1" height="21.25" fill="#089981"/>
<rect x="845" y="246.90" width="3" height="8.70" fill="#089981"/>
<rect x="849" y="242.75" width="1" height="12.50" fill="#f23645"/>
<rect x="848" y="246.90" width="3" height="8.35" fill="#f23645"/>
<rect x="852" y="251.25" width="1" height="22.50" fill="#f23645"/>
<rect x="851" y="255.25" width="3" height="18.50" fill="#f23645"/>
<rect x="855" y="268.75" width="1" height="8.50" fill="#089981"/>
<rect x="854" y="271.90" width="3" height="1.85" fill="#089981"/>
<rect x="858" y="258.10" width="1" height="13.80" fill="#089981"/>
<rect x="857" y="261.25" width="3" height="10.65" fill="#089981"/>
<rect x="862" y="254.00" width="1" height="11.60" fill="#089981"/>
<rect x="861" y="255.60" width="3" height="5.65" fill="#089981"/>
<rect x="865" y="254.40" width="1" height="5.00" fill="#089981"/>
<rect x="864" y="254.40" width="3" height="1.20" fill="#089981"/>
<rect x="868" y="253.50" width="1" height="17.75" fill="#f23645"/>
<rect x="867" y="254.00" width="3" height="17.25" fill="#f23645"/>
<rect x="871" y="271.00" width="1" height="14.00" fill="#f23645"/>
<rect x="870" y="271.25" width="3" height="12.75" fill="#f23645"/>
<rect x="874" y="276.25" width="1" height="8.75" fill="#089981"/>
<rect x="873" y="278.75" width="3" height="5.25" fill="#089981"/>
<rect x="878" y="278.50" width="1" height="4.00" fill="#f23645"/>
<rect x="877" y="278.75" width="3" height="1.00" fill="#f23645"/>
<rect x="881" y="278.10" width="1" height="20.65" fill="#f23645"/>
<rect x="880" y="279.75" width="3" height="11.75" fill="#f23645"/>
<rect x="884" y="275.00" width="1" height="18.75" fill="#089981"/>
<rect x="883" y="275.25" width="3" height="16.25" fill="#089981"/>
<rect x="887" y="264.00" width="1" height="22.90" fill="#f23645"/>
<rect x="886" y="275.25" width="3" height="11.65" fill="#f23645"/>
<rect x="890" y="267.50" width="1" height="19.40" fill="#089981"/>
<rect x="889" y="277.50" width="3" height="9.40" fill="#089981"/>
<rect x="894" y="254.00" width="1" height="23.50" fill="#089981"/>
<rect x="893" y="258.50" width="3" height="19.00" fill="#089981"/>
<rect x="897" y="203.10" width="1" height="55.40" fill="#089981"/>
<rect x="896" y="204.50" width="3" height="54.00" fill="#089981"/>
<rect x="900" y="187.70" width="1" height="16.80" fill="#089981"/>
<rect x="899" y="189.80" width="3" height="14.70" fill="#089981"/>
<rect x="903" y="190.00" width="1" height="8.00" fill="#f23645"/>
<rect x="902" y="190.50" width="3" height="3.50" fill="#f23645"/>
<rect x="906" y="192.00" width="1" height="15.30" fill="#f23645"/>
<rect x="905" y="194.00" width="3" height="3.00" fill="#f23645"/>
<rect x="910" y="192.00" width="1" height="12.50" fill="#089981"/>
<rect x="909" y="195.00" width="3" height="2.00" fill="#089981"/>
<rect x="913" y="191.00" width="1" height="8.00" fill="#089981"/>
<rect x="912" y="194.00" width="3" height="1.00" fill="#089981"/>
<rect x="916" y="190.00" width="1" height="10.00" fill="#f23645"/>
<rect x="915" y="194.00" width="3" height="2.00" fill="#f23645"/>
<rect x="919" y="194.50" width="1" height="11.40" fill="#089981"/>
<rect x="918" y="195.65" width="3" height="1.00" fill="#089981"/>
</g>
<text x="964.5" y="33.67" text-anchor="start" font-size="10.6" fill="#131722" textLength="41.2" lengthAdjust="spacingAndGlyphs" class="ax">26,000.0</text><text x="964.5" y="73.2" text-anchor="start" font-size="10.6" fill="#131722" textLength="41.2" lengthAdjust="spacingAndGlyphs" class="ax">25,600.0</text><text x="964.5" y="112.73" text-anchor="start" font-size="10.6" fill="#131722" textLength="41.2" lengthAdjust="spacingAndGlyphs" class="ax">25,200.0</text><text x="964.5" y="152.27" text-anchor="start" font-size="10.6" fill="#131722" textLength="41.2" lengthAdjust="spacingAndGlyphs" class="ax">24,800.0</text><text x="964.5" y="191.8" text-anchor="start" font-size="10.6" fill="#131722" textLength="41.2" lengthAdjust="spacingAndGlyphs" class="ax">24,400.0</text><text x="964.5" y="231.33" text-anchor="start" font-size="10.6" fill="#131722" textLength="41.2" lengthAdjust="spacingAndGlyphs" class="ax">24,000.0</text><text x="964.5" y="270.87" text-anchor="start" font-size="10.6" fill="#131722" textLength="41.2" lengthAdjust="spacingAndGlyphs" class="ax">23,600.0</text><text x="964.5" y="310.4" text-anchor="start" font-size="10.6" fill="#131722" textLength="41.2" lengthAdjust="spacingAndGlyphs" class="ax">23,200.0</text><text x="964.5" y="349.93" text-anchor="start" font-size="10.6" fill="#131722" textLength="41.2" lengthAdjust="spacingAndGlyphs" class="ax">22,800.0</text><text x="964.5" y="389.47" text-anchor="start" font-size="10.6" fill="#131722" textLength="41.2" lengthAdjust="spacingAndGlyphs" class="ax">22,400.0</text><text x="964.5" y="429.0" text-anchor="start" font-size="10.6" fill="#131722" textLength="41.2" lengthAdjust="spacingAndGlyphs" class="ax">22,000.0</text><text x="964.5" y="468.53" text-anchor="start" font-size="10.6" fill="#131722" textLength="41.2" lengthAdjust="spacingAndGlyphs" class="ax">21,600.0</text><text x="964.5" y="508.07" text-anchor="start" font-size="10.6" fill="#131722" textLength="41.2" lengthAdjust="spacingAndGlyphs" class="ax">21,200.0</text><text x="964.5" y="547.6" text-anchor="start" font-size="10.6" fill="#131722" textLength="41.2" lengthAdjust="spacingAndGlyphs" class="ax">20,800.0</text>
<text x="60.33" y="567.2" text-anchor="middle" font-size="10.4" fill="#131722" textLength="10.4" lengthAdjust="spacingAndGlyphs" class="ax">16</text><text x="137.0" y="567.2" text-anchor="middle" font-size="10.2" font-weight="bold" fill="#131722" textLength="10.8" lengthAdjust="spacingAndGlyphs">17</text><text x="213.67" y="567.2" text-anchor="middle" font-size="10.4" fill="#131722" textLength="10.4" lengthAdjust="spacingAndGlyphs" class="ax">18</text><text x="290.34" y="567.2" text-anchor="middle" font-size="10.4" fill="#131722" textLength="10.4" lengthAdjust="spacingAndGlyphs" class="ax">19</text><text x="367.01" y="567.2" text-anchor="middle" font-size="10.4" fill="#131722" textLength="10.4" lengthAdjust="spacingAndGlyphs" class="ax">20</text><text x="443.68" y="567.2" text-anchor="middle" font-size="10.4" fill="#131722" textLength="10.4" lengthAdjust="spacingAndGlyphs" class="ax">21</text><text x="520.35" y="567.2" text-anchor="middle" font-size="10.4" fill="#131722" textLength="10.4" lengthAdjust="spacingAndGlyphs" class="ax">22</text><text x="597.02" y="567.2" text-anchor="middle" font-size="10.4" fill="#131722" textLength="10.4" lengthAdjust="spacingAndGlyphs" class="ax">23</text><text x="673.69" y="567.2" text-anchor="middle" font-size="10.2" font-weight="bold" fill="#131722" textLength="10.8" lengthAdjust="spacingAndGlyphs">24</text><text x="750.36" y="567.2" text-anchor="middle" font-size="10.4" fill="#131722" textLength="10.4" lengthAdjust="spacingAndGlyphs" class="ax">25</text><text x="827.03" y="567.2" text-anchor="middle" font-size="10.4" fill="#131722" textLength="10.4" lengthAdjust="spacingAndGlyphs" class="ax">26</text><text x="903.7" y="567.2" text-anchor="middle" font-size="10.4" fill="#131722" textLength="10.4" lengthAdjust="spacingAndGlyphs" class="ax">27</text>
<path d="M904 188.1 H956.2 V203.1 H904 a2 2 0 0 1 -2 -2 V190.1 a2 2 0 0 1 2 -2 Z" fill="#f23645"/>
<path d="M957.8 188.1 H1008.7 a2 2 0 0 1 2 2 V201.1 a2 2 0 0 1 -2 2 H957.8 Z" fill="#f23645"/>
<text x="905.1" y="199.8" text-anchor="start" font-size="10.8" fill="#fff" textLength="48.2" lengthAdjust="spacingAndGlyphs" stroke="#fff" stroke-width="0.2">CRYPTO20</text>
<text x="964.3" y="199.2" text-anchor="start" font-size="11.0" fill="#fff" textLength="41.6" lengthAdjust="spacingAndGlyphs" stroke="#fff" stroke-width="0.2">24,330.9</text>
<rect x="957" y="1" width="57" height="29.1" fill="#fff"/>
<rect x="960.6" y="4.5" width="50.4" height="22.5" rx="4.5" fill="#fff" stroke="#efefef" stroke-width="1"/>
<text x="968.2" y="18.9" text-anchor="start" font-size="11.2" fill="#131722" textLength="18.3" lengthAdjust="spacingAndGlyphs" class="ax">USD</text>
<text x="15.5" y="17.8" text-anchor="start" font-size="10.7" fill="#131722" textLength="109.6" lengthAdjust="spacingAndGlyphs" class="hd" stroke="#131722">Global 20 Crypto Index</text><text x="130.5" y="17.8" text-anchor="middle" font-size="10.7" fill="#131722" class="hd" stroke="#131722">·</text><text x="135.9" y="17.8" text-anchor="start" font-size="10.7" fill="#131722" textLength="10.6" lengthAdjust="spacingAndGlyphs" class="hd" stroke="#131722">1h</text><text x="151.9" y="17.8" text-anchor="middle" font-size="10.7" fill="#131722" class="hd" stroke="#131722">·</text><text x="157.2" y="17.8" text-anchor="start" font-size="10.7" fill="#131722" textLength="58.5" lengthAdjust="spacingAndGlyphs" class="hd" stroke="#131722">Pepperstone</text><text x="222.1" y="17.8" text-anchor="start" font-size="10.7" fill="#131722" textLength="7.8" lengthAdjust="spacingAndGlyphs" class="hd" stroke="#131722">O</text><text x="229.5" y="17.8" text-anchor="start" font-size="10.7" fill="#f23645" textLength="42.0" lengthAdjust="spacingAndGlyphs" class="hd" stroke="#f23645">24,339.0</text><text x="276.9" y="17.8" text-anchor="start" font-size="10.7" fill="#131722" textLength="7.5" lengthAdjust="spacingAndGlyphs" class="hd" stroke="#131722">H</text><text x="284.3" y="17.8" text-anchor="start" font-size="10.7" fill="#f23645" textLength="41.1" lengthAdjust="spacingAndGlyphs" class="hd" stroke="#f23645">24,339.0</text><text x="332.1" y="17.8" text-anchor="start" font-size="10.7" fill="#131722" textLength="5.7" lengthAdjust="spacingAndGlyphs" class="hd" stroke="#131722">L</text><text x="337.4" y="17.8" text-anchor="start" font-size="10.7" fill="#f23645" textLength="41.4" lengthAdjust="spacingAndGlyphs" class="hd" stroke="#f23645">24,325.0</text><text x="384.9" y="17.8" text-anchor="start" font-size="10.7" fill="#131722" textLength="6.8" lengthAdjust="spacingAndGlyphs" class="hd" stroke="#131722">C</text><text x="391.5" y="17.8" text-anchor="start" font-size="10.7" fill="#f23645" textLength="41.2" lengthAdjust="spacingAndGlyphs" class="hd" stroke="#f23645">24,330.9</text><text x="439.1" y="17.8" text-anchor="start" font-size="10.7" fill="#f23645" textLength="64.3" lengthAdjust="spacingAndGlyphs" class="hd" stroke="#f23645">−8.2 (−0.03%)</text>
<path d="M10.8 595.2 H20.9 V608.4 H16.2 V600.3 H10.8 Z" fill="#111"/>
<circle cx="25.7" cy="597.9" r="2.45" fill="#111"/>
<path d="M31.3 595.2 H36.9 L31.8 608.4 H26.2 Z" fill="#111"/>
<text x="43.5" y="608.6" text-anchor="start" font-size="19.4" font-weight="bold" fill="#111" textLength="107.2" lengthAdjust="spacingAndGlyphs">TradingView</text>
</svg>
</body></html>
